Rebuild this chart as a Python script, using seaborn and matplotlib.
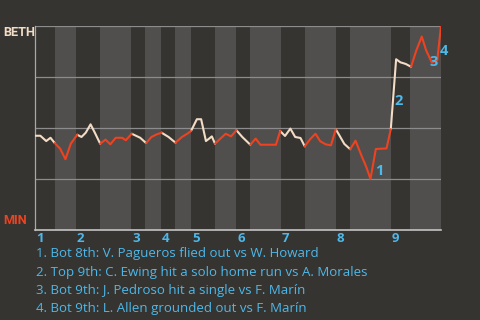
import matplotlib
matplotlib.use("Agg")
import matplotlib.pyplot as plt
from matplotlib.transforms import blended_transform_factory
import seaborn as sns
import pandas as pd

# ---------------- data ----------------
team_top = "BETH"
team_bottom = "MIN"

play_x = [0.0, 1.0, 2.1, 2.9, 3.7, 4.7, 5.7, 6.7, 7.9, 8.7, 9.5, 10.4, 11.2, 12.2, 13.2,
          14.1, 15.1, 16.3, 17.0, 18.1, 19.7, 20.8, 21.8, 22.8, 23.7, 25.0, 26.3, 27.5,
          28.5, 29.2, 30.3, 31.1, 32.0, 32.6, 33.1, 33.7, 34.7, 35.7, 36.7, 37.7, 38.8,
          40.3, 41.3, 42.2, 45.1, 45.9, 46.8, 47.8, 48.7, 49.7, 50.5, 51.5, 52.5, 53.4,
          54.4, 55.4, 56.3, 57.0, 57.9, 59.0, 60.0, 61.2, 62.0, 62.8, 63.8, 65.8, 66.6,
          67.6, 68.4, 69.4, 70.4, 71.4, 72.4, 73.2, 74.3, 75.3, 76.0]
win_prob = [0.462, 0.462, 0.436, 0.452, 0.426, 0.399, 0.347, 0.423, 0.467, 0.456, 0.477,
            0.518, 0.477, 0.423, 0.443, 0.420, 0.452, 0.452, 0.440, 0.472, 0.452, 0.426,
            0.456, 0.469, 0.477, 0.456, 0.428, 0.456, 0.472, 0.485, 0.543, 0.543, 0.436,
            0.448, 0.459, 0.423, 0.448, 0.472, 0.459, 0.489, 0.456, 0.418, 0.448, 0.418,
            0.418, 0.485, 0.461, 0.497, 0.456, 0.451, 0.410, 0.445, 0.472, 0.435, 0.420,
            0.415, 0.494, 0.463, 0.422, 0.396, 0.438, 0.359, 0.310, 0.250, 0.397, 0.400,
            0.494, 0.837, 0.822, 0.814, 0.800, 0.882, 0.948, 0.882, 0.820, 0.833, 1.000]

inning_labels = ["1", "2", "3", "4", "5", "6", "7", "8", "9"]
inning_start = [0.0, 7.67, 17.97, 23.59, 29.2, 37.63, 46.05, 56.34, 66.64]
bottom_start = [3.74, 12.17, 20.59, 26.21, 33.69, 40.25, 50.54, 58.96, 70.2]
game_end = 76.0

event_labels = ["1", "2", "3", "4"]
event_play = [63, 67, 74, 76]          # index of the play ending each event
event_text = [
    "1. Bot 8th: V. Pagueros flied out vs W. Howard",
    "2. Top 9th: C. Ewing hit a solo home run vs A. Morales",
    "3. Bot 9th: J. Pedroso hit a single vs F. Marín",
    "4. Bot 9th: L. Allen grounded out vs F. Marín",
]

# ---------------- style ----------------
BG = "#363431"
BAND = "#504f4e"
CREAM = "#f2dcc6"
RED = "#ee4220"
BLUE = "#4db8ea"
label_offsets = [(9, 8), (2, -42), (2, 1), (3, -25)]   # pixels

sns.set_theme(style="dark")
plt.rcParams["font.family"] = ["Open Sans", "DejaVu Sans"]

fig = plt.figure(figsize=(4.8, 3.2), dpi=100, facecolor=BG)
ax = fig.add_axes([35 / 480, 90 / 320, 406 / 480, 204 / 320])
ax.set_facecolor(BG)

# half-inning bands
for b, k in zip(bottom_start, inning_start[1:] + [game_end]):
    ax.axvspan(b, k, color=BAND, lw=0, zorder=0)

# segment grouping by half-inning
def half_of(x):
    k = 0
    for i, s in enumerate(inning_start):
        if x >= s:
            k = i
    return 2 * k + (1 if x >= bottom_start[k] else 0)

rows = []
group = -1
prev_half = None
for i in range(len(play_x) - 1):
    mid = (play_x[i] + play_x[i + 1]) / 2
    h = half_of(mid)
    if h != prev_half:
        group += 1
        prev_half = h
        rows.append(dict(x=play_x[i], wp=win_prob[i], seg=group,
                         side="bottom" if h % 2 else "top", order=len(rows)))
    rows.append(dict(x=play_x[i + 1], wp=win_prob[i + 1], seg=group,
                     side="bottom" if h % 2 else "top", order=len(rows)))
df = pd.DataFrame(rows)

sns.lineplot(data=df, x="x", y="wp", hue="side", units="seg", estimator=None,
             sort=False, palette={"top": CREAM, "bottom": RED}, legend=False,
             linewidth=1.5, ax=ax, zorder=3)

ax.set_xlim(0, game_end)
ax.set_ylim(0, 1)
ax.set_yticks([0.25, 0.5, 0.75, 1.0])
ax.set_xticks([])
ax.tick_params(left=False, bottom=False, labelleft=False, labelbottom=False)
ax.yaxis.grid(True, color="#8c8c8c", lw=0.9)
ax.xaxis.grid(False)
ax.set_xlabel("")
ax.set_ylabel("")
for s in ["top", "right"]:
    ax.spines[s].set_visible(False)
ax.spines["left"].set_color("#a8a8a8")
ax.spines["left"].set_linewidth(0.9)
ax.spines["bottom"].set_color("#c4c4c4")
ax.spines["bottom"].set_linewidth(1.2)

# team labels
team_font = dict(family=["Roboto", "DejaVu Sans"], weight="bold", size=9.2)
fig.text(3 / 480, 1 - 33 / 320, team_top, color=CREAM, ha="left", va="center",
         fontdict=team_font)
fig.text(3 / 480, 1 - 221 / 320, team_bottom, color=RED, ha="left", va="center",
         fontdict=team_font)

# inning labels
tr = blended_transform_factory(ax.transData, ax.transAxes)
for lab, s in zip(inning_labels, inning_start):
    ax.annotate(lab, xy=(s, 0), xycoords=tr, xytext=(1, -8),
                textcoords="offset pixels", color=BLUE, fontsize=9.5,
                fontweight="bold", ha="left", va="center", annotation_clip=False)

# event markers
for lab, idx, off in zip(event_labels, event_play, label_offsets):
    ax.annotate(lab, xy=(play_x[idx], win_prob[idx]), xytext=off,
                textcoords="offset pixels", color=BLUE, fontsize=10.5,
                fontweight="bold", ha="center", va="center",
                annotation_clip=False, zorder=5)

# event descriptions
for i, t in enumerate(event_text):
    fig.text(36 / 480, 1 - (254 + 18.3 * i) / 320, t, color=BLUE,
             fontsize=9.5, ha="left", va="center")

fig.savefig("out.png", dpi=100, facecolor=BG)
